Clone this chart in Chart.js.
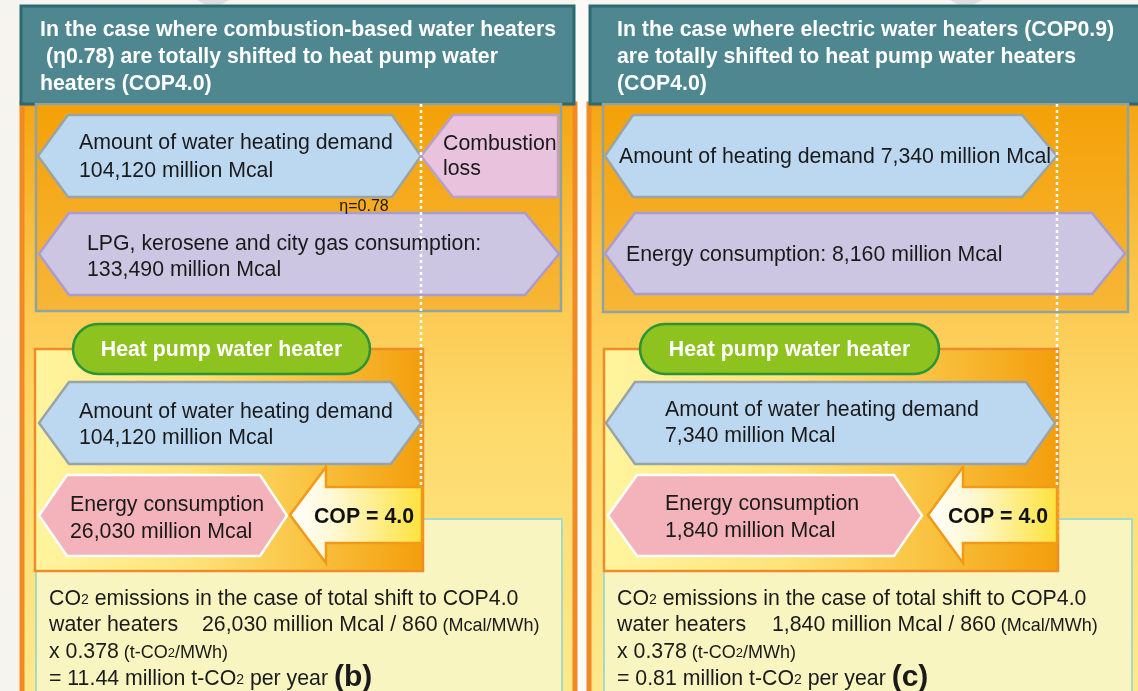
<!DOCTYPE html>
<html>
<head>
<meta charset="utf-8">
<script src="https://cdn.jsdelivr.net/npm/chart.js@4.4.1/dist/chart.umd.min.js"></script>
<style>
  html, body { margin: 0; padding: 0; background: #f6f4ef; }
  #wrap { width: 1138px; height: 691px; }
</style>
</head>
<body>
<div id="wrap"><canvas id="shiftChart" width="1138" height="691"></canvas></div>
<script>
// ==========================================
// HEAT PUMP SHIFT DIAGRAM (Chart.js + custom plugin)
// ==========================================

// values (million Mcal unless noted)
const caseKeys = ['combustion', 'electric'];
const oldHeaterEff = [0.78, 0.9];       // eta of combustion heaters, COP of electric heaters
const heatDemand = [104120, 7340];
const oldConsumption = [133490, 8160];
const hpConsumption = [26030, 1840];
const hpCop = [4.0, 4.0];
const co2PerYear = [11.44, 0.81];       // million t-CO2 per year
const caseLabels = ['(b)', '(c)'];
const mcalPerMWh = 860;
const co2Factor = 0.378;                // t-CO2/MWh

const FONT = '"Liberation Sans", Arial, sans-serif';
const FS = 21.3; // main text size
const fmt = (v) => v.toLocaleString('en-US');

// layout in the hidden 1138 x 691 axis units
const layout = [
  {
    panel: [22, 575], header: [21, 574, 6, 104], headerTextX: 40,
    innerTop: [36, 561, 104, 311],
    demandHex: [38, 421, 115, 197, 30, 29], demandText: [79, [141, 169]],
    lossBox: [421, 558, 115, 197, 32], lossText: [443, [142, 167]], eta: [364, 205],
    sourceHex: [39, 559, 213, 295, 30, 34], sourceText: [87, [242, 268]],
    dotted: [421, 104, 487],
    co2Box: [36, 562, 519, 710],
    hpBox: [35, 423, 349, 571],
    pill: [73, 370, 324, 374],
    hpDemandHex: [39, 421, 382, 464, 30, 30], hpDemandText: [79, [410, 436]],
    hpConsHex: [39, 287, 475, 556, 28, 27], hpConsText: [70, [503, 530]],
    arrow: [290, 326, 422, 515], copX: 364,
    co2TextX: 49, co2SecondX: 202,
    chevron: 213,
  },
  {
    panel: [589, 1150], header: [590, 1150, 6, 104], headerTextX: 617,
    innerTop: [603, 1128, 104, 312],
    demandHex: [605, 1057, 115, 197, 28, 35], demandText: [619, [155]],
    sourceHex: [605, 1125, 213, 294, 30, 33], sourceText: [626, [253]],
    dotted: [1057, 104, 533],
    co2Box: [604, 1132, 519, 710],
    hpBox: [604, 1058, 349, 571],
    pill: [640, 939, 324, 374],
    hpDemandHex: [606, 1055, 382, 464, 29, 29], hpDemandText: [665, [408, 434]],
    hpConsHex: [608, 922, 475, 556, 29, 28], hpConsText: [665, [502, 529]],
    arrow: [928, 963, 1057, 515], copX: 998,
    co2TextX: 617, co2SecondX: 772,
    chevron: 966,
  },
];

const diagramPlugin = {
  id: 'shiftDiagram',
  afterDraw(chart) {
    const ctx = chart.ctx;
    const xs = chart.scales.x;
    const ys = chart.scales.y;
    const X = (v) => xs.getPixelForValue(v);
    const Y = (v) => ys.getPixelForValue(v);

    function path(pts) {
      ctx.beginPath();
      pts.forEach(([px, py], i) => (i ? ctx.lineTo(X(px), Y(py)) : ctx.moveTo(X(px), Y(py))));
      ctx.closePath();
    }
    function shape(pts, fill, stroke, lw) {
      path(pts);
      ctx.fillStyle = fill;
      ctx.fill();
      if (stroke) {
        ctx.lineJoin = 'miter';
        ctx.strokeStyle = stroke;
        ctx.lineWidth = lw;
        ctx.stroke();
      }
    }
    function hexPts([x1, x2, y1, y2, sl, sr]) {
      const ym = (y1 + y2) / 2;
      return [[x1 + sl, y1], [x2 - sr, y1], [x2, ym], [x2 - sr, y2], [x1 + sl, y2], [x1, ym]];
    }
    function rect(x1, x2, y1, y2, fill, stroke, lw) {
      shape([[x1, y1], [x2, y1], [x2, y2], [x1, y2]], fill, stroke, lw);
    }
    function text(str, x, y, size, opts = {}) {
      ctx.font = (opts.bold ? 'bold ' : '') + size + 'px ' + FONT;
      ctx.fillStyle = opts.color || '#1a1a1a';
      ctx.textAlign = opts.align || 'left';
      ctx.textBaseline = 'alphabetic';
      ctx.fillText(str, X(x), Y(y));
    }
    // runs of text with different sizes on one baseline
    function runs(list, x, y) {
      let cx = X(x);
      list.forEach((r) => {
        ctx.font = (r.bold ? 'bold ' : '') + r.s + 'px ' + FONT;
        ctx.fillStyle = '#1a1a1a';
        ctx.textAlign = 'left';
        ctx.textBaseline = 'alphabetic';
        ctx.fillText(r.t, cx, Y(y + (r.dy || 0)));
        cx += ctx.measureText(r.t).width;
      });
    }
    const base = (mid) => mid + 7.5; // baseline for main text centred on mid

    // page background
    rect(0, 1138, 0, 691, '#f6f4ef');
    rect(575, 589, 0, 691, '#fbfaf7');

    caseKeys.forEach((key, i) => {
      const L = layout[i];

      // grey chevron peeking above header
      shape([[L.chevron - 16, 0], [L.chevron + 16, 0], [L.chevron, 9]], '#dedede');

      // outer orange panel
      const pg = ctx.createLinearGradient(0, Y(104), 0, Y(691));
      pg.addColorStop(0, '#f5a512');
      pg.addColorStop(0.3, '#fbc64d');
      pg.addColorStop(0.55, '#fdda6c');
      pg.addColorStop(1, '#fde98c');
      rect(L.panel[0], L.panel[1], 104, 700, pg, '#f28a24', 5);

      // header
      const [hx1, hx2, hy1, hy2] = L.header;
      rect(hx1, hx2, hy1, hy2, '#4f8790', '#2a6a71', 3);

      // inner top box
      const [ix1, ix2, iy1, iy2] = L.innerTop;
      const ig = ctx.createLinearGradient(0, Y(iy1), 0, Y(iy2));
      ig.addColorStop(0, '#f4a107');
      ig.addColorStop(1, '#f7b638');
      rect(ix1, ix2, iy1, iy2, ig, '#8fa49f', 2.5);

      // current heater shapes
      shape(hexPts(L.demandHex), '#bcd8f1', '#9aa4a6', 2.5);
      if (L.lossBox) {
        const [lx1, lx2, ly1, ly2, ls] = L.lossBox;
        const ym = (ly1 + ly2) / 2;
        shape([[lx1 + ls, ly1], [lx2, ly1], [lx2, ly2], [lx1 + ls, ly2], [lx1, ym]], '#e9c3dd', '#b9a0cb', 2.5);
      }
      shape(hexPts(L.sourceHex), '#cdc6e3', '#a99cd2', 2.5);

      // CO2 box (behind heat pump box)
      const [cx1, cx2, cy1, cy2] = L.co2Box;
      rect(cx1, cx2, cy1, cy2, '#f8f5c1', '#a7d9c7', 2);

      // heat pump box
      const [bx1, bx2, by1, by2] = L.hpBox;
      const bg = ctx.createLinearGradient(X(bx1), 0, X(bx2), 0);
      bg.addColorStop(0, '#fff59f');
      bg.addColorStop(0.4, '#fde37a');
      bg.addColorStop(0.7, '#f9c443');
      bg.addColorStop(1, '#f39e0b');
      rect(bx1, bx2, by1, by2, bg, '#f08b2a', 2.5);

      // dotted divider
      const [dx, dy1, dy2] = L.dotted;
      ctx.save();
      ctx.setLineDash([3, 3]);
      ctx.strokeStyle = '#ffffff';
      ctx.lineWidth = 2.5;
      ctx.beginPath();
      ctx.moveTo(X(dx), Y(dy1));
      ctx.lineTo(X(dx), Y(dy2));
      ctx.stroke();
      ctx.restore();

      // heat pump pill
      const [px1, px2, py1, py2] = L.pill;
      ctx.beginPath();
      ctx.roundRect(X(px1), Y(py1), X(px2) - X(px1), Y(py2) - Y(py1), (Y(py2) - Y(py1)) / 2);
      ctx.fillStyle = '#8dc21f';
      ctx.fill();
      ctx.strokeStyle = '#2b9437';
      ctx.lineWidth = 2.5;
      ctx.stroke();
      text('Heat pump water heater', (px1 + px2) / 2, base(348), FS, { bold: true, color: '#ffffff', align: 'center' });

      // heat pump shapes
      shape(hexPts(L.hpDemandHex), '#bcd8f1', '#9aa4a6', 2.5);
      shape(hexPts(L.hpConsHex), '#f4b3ba', '#ffffff', 2.5);

      // COP arrow
      const [tip, head, right, ay] = L.arrow;
      const ag = ctx.createLinearGradient(X(tip), 0, X(right), 0);
      ag.addColorStop(0, '#ffffff');
      ag.addColorStop(0.35, '#fff8d0');
      ag.addColorStop(1, '#fde23c');
      shape([[tip, ay], [head, ay - 48], [head, ay - 28], [right, ay - 28],
             [right, ay + 28], [head, ay + 28], [head, ay + 48]], ag, '#f29a18', 2.5);
      text('COP = ' + hpCop[i].toFixed(1), L.copX, base(515), FS, { bold: true, align: 'center', color: '#111' });

      // ---- texts ----
      const headerLines = i === 0
        ? ['In the case where combustion-based water heaters',
           ' (\u03b7' + oldHeaterEff[0] + ') are totally shifted to heat pump water',
           'heaters (COP' + hpCop[0].toFixed(1) + ')']
        : ['In the case where electric water heaters (COP' + oldHeaterEff[1] + ')',
           'are totally shifted to heat pump water heaters',
           '(COP' + hpCop[1].toFixed(1) + ')'];
      headerLines.forEach((ln, k) => text(ln, L.headerTextX, base(28 + k * 27), FS, { bold: true, color: '#ffffff' }));

      const demandLines = i === 0
        ? ['Amount of water heating demand', fmt(heatDemand[i]) + ' million Mcal']
        : ['Amount of heating demand ' + fmt(heatDemand[i]) + ' million Mcal'];
      demandLines.forEach((ln, k) => text(ln, L.demandText[0], base(L.demandText[1][k]), FS));

      if (L.lossText) {
        text('Combustion', L.lossText[0], base(L.lossText[1][0]), FS);
        text('loss', L.lossText[0], base(L.lossText[1][1]), FS);
        text('\u03b7=' + oldHeaterEff[i], L.eta[0], L.eta[1] + 6, 16, { align: 'center' });
      }

      const sourceLines = i === 0
        ? ['LPG, kerosene and city gas consumption:', fmt(oldConsumption[i]) + ' million Mcal']
        : ['Energy consumption: ' + fmt(oldConsumption[i]) + ' million Mcal'];
      sourceLines.forEach((ln, k) => text(ln, L.sourceText[0], base(L.sourceText[1][k]), FS));

      text('Amount of water heating demand', L.hpDemandText[0], base(L.hpDemandText[1][0]), FS);
      text(fmt(heatDemand[i]) + ' million Mcal', L.hpDemandText[0], base(L.hpDemandText[1][1]), FS);
      text('Energy consumption', L.hpConsText[0], base(L.hpConsText[1][0]), FS);
      text(fmt(hpConsumption[i]) + ' million Mcal', L.hpConsText[0], base(L.hpConsText[1][1]), FS);

      // CO2 calculation
      const tx = L.co2TextX;
      runs([{ t: 'CO', s: FS }, { t: '2', s: 14, dy: -1 }, { t: ' emissions in the case of total shift to COP' + hpCop[i].toFixed(1), s: FS }], tx, base(597));
      runs([{ t: 'water heaters', s: FS }], tx, base(623));
      runs([{ t: fmt(hpConsumption[i]) + ' million Mcal / ' + mcalPerMWh, s: FS }, { t: ' (Mcal/MWh)', s: 18 }], L.co2SecondX, base(623));
      runs([{ t: 'x ' + co2Factor, s: FS }, { t: ' (t-CO', s: 18 }, { t: '2', s: 13, dy: -1 }, { t: '/MWh)', s: 18 }], tx, base(650));
      runs([{ t: '= ' + co2PerYear[i].toFixed(2) + ' million t-CO', s: FS }, { t: '2', s: 14, dy: -1 },
            { t: ' per year ', s: FS }, { t: caseLabels[i], s: 30, bold: true, dy: 1 }], tx, base(677));
    });
  },
};

const shiftConfig = {
  type: 'scatter',
  data: { datasets: [{ data: [] }] },
  options: {
    responsive: false,
    animation: false,
    layout: { padding: 0 },
    plugins: { legend: { display: false }, tooltip: { enabled: false } },
    scales: {
      x: { type: 'linear', min: 0, max: 1138, display: false },
      y: { type: 'linear', min: 0, max: 691, reverse: true, display: false },
    },
  },
  plugins: [diagramPlugin],
};

const shiftChart = new Chart(document.getElementById('shiftChart'), shiftConfig);
</script>
</body>
</html>
